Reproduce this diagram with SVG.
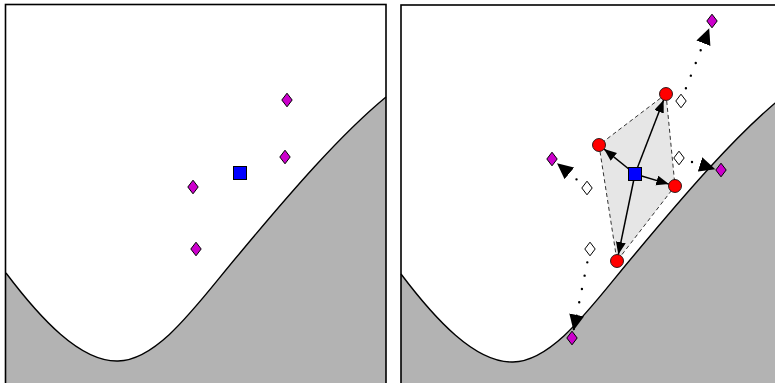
<svg xmlns="http://www.w3.org/2000/svg" xmlns:xlink="http://www.w3.org/1999/xlink" width="775" height="383" viewBox="0 0 775 383">
<style>
.ground{fill:#b3b3b3;stroke:none}
.curve{fill:none;stroke:#000;stroke-width:1.4}
.frame{fill:none;stroke:#000;stroke-width:1.6}
.mag{fill:#cc00cc;stroke:#000;stroke-width:1}
.wd{fill:#fff;stroke:#000;stroke-width:1}
.sq{fill:#0000ff;stroke:#000;stroke-width:1}
.rc{fill:#ff0000;stroke:#000;stroke-width:0.8}
.hull{fill:#e6e6e6;stroke:#333;stroke-width:1;stroke-dasharray:4 3}
.solid{stroke:#000;stroke-width:1.5;fill:none;marker-end:url(#ah)}
.dots{stroke:#000;stroke-width:2.4;stroke-linecap:round;stroke-dasharray:0 13.6;fill:none;marker-end:url(#big)}
</style>
<defs>
<path id="groundShape" d="M6,273 C40,318 80,362 118,361 C160,360 200,300 240,253 C290,193 340,135 386,97 L386,395 L6,395 Z"/>
<path id="curveShape" d="M6,273 C40,318 80,362 118,361 C160,360 200,300 240,253 C290,193 340,135 386,97"/>
<path id="dia" d="M0,-6.8 L5.2,0 L0,6.8 L-5.2,0 Z"/>
<marker id="ah" markerUnits="userSpaceOnUse" markerWidth="14" markerHeight="12" refX="12.5" refY="5" orient="auto">
<path d="M0,0 L12.5,5 L0,10 Z" fill="#000"/>
</marker>
<marker id="big" markerUnits="userSpaceOnUse" markerWidth="18" markerHeight="16" refX="16" refY="7.5" orient="auto">
<path d="M0,0 L16,7.5 L0,15 Z" fill="#000"/>
</marker>
</defs>

<g id="panel-left">
<use xlink:href="#groundShape" class="ground"/>
<use xlink:href="#curveShape" class="curve"/>
<rect class="frame" x="5.5" y="4.5" width="380.5" height="400"/>
</g>

<g id="panel-right">
<use xlink:href="#groundShape" class="ground" transform="translate(395,1)"/>
<use xlink:href="#curveShape" class="curve" transform="translate(395,1)"/>
<rect class="frame" x="401" y="5" width="400" height="400"/>
</g>

<g id="left-nodes">
<g id="l-d1"><use xlink:href="#dia" class="mag" x="287" y="100"/></g>
<g id="l-d2"><use xlink:href="#dia" class="mag" x="285" y="157"/></g>
<g id="l-d3"><use xlink:href="#dia" class="mag" x="193" y="187"/></g>
<g id="l-d4"><use xlink:href="#dia" class="mag" x="196" y="249"/></g>
<g id="l-sq"><rect class="sq" x="233.5" y="166.5" width="13" height="13"/></g>
</g>

<g id="hull"><polygon class="hull" points="666,94 675,186 617,261 599,145"/></g>

<g id="connectors">
<line class="dots" x1="681" y1="101" x2="709.2" y2="28.3"/>
<line class="dots" x1="679" y1="158" x2="715.3" y2="169.2"/>
<line class="dots" x1="587" y1="188" x2="557" y2="163.2"/>
<line class="dots" x1="590" y1="249" x2="573.5" y2="330.6"/>
<line class="solid" x1="635" y1="174" x2="663.6" y2="100.1"/>
<line class="solid" x1="635" y1="174" x2="604.1" y2="149.1"/>
<line class="solid" x1="635" y1="174" x2="668.8" y2="184.1"/>
<line class="solid" x1="635" y1="174" x2="618.3" y2="254.6"/>
</g>

<g id="right-nodes">
<g id="w1"><use xlink:href="#dia" class="wd" x="681" y="101"/></g>
<g id="w2"><use xlink:href="#dia" class="wd" x="679" y="158"/></g>
<g id="w3"><use xlink:href="#dia" class="wd" x="587" y="188"/></g>
<g id="w4"><use xlink:href="#dia" class="wd" x="590" y="249"/></g>
<g id="m1"><use xlink:href="#dia" class="mag" x="712" y="21"/></g>
<g id="m2"><use xlink:href="#dia" class="mag" x="721" y="170"/></g>
<g id="m3"><use xlink:href="#dia" class="mag" x="552" y="159"/></g>
<g id="m4"><use xlink:href="#dia" class="mag" x="572" y="338"/></g>
<g id="cA"><circle class="rc" cx="666" cy="94" r="6.5"/></g>
<g id="cB"><circle class="rc" cx="599" cy="145" r="6.5"/></g>
<g id="cC"><circle class="rc" cx="675" cy="186" r="6.5"/></g>
<g id="cD"><circle class="rc" cx="617" cy="261" r="6.5"/></g>
<g id="r-sq"><rect class="sq" x="628.5" y="167.5" width="13" height="13"/></g>
</g>
</svg>
